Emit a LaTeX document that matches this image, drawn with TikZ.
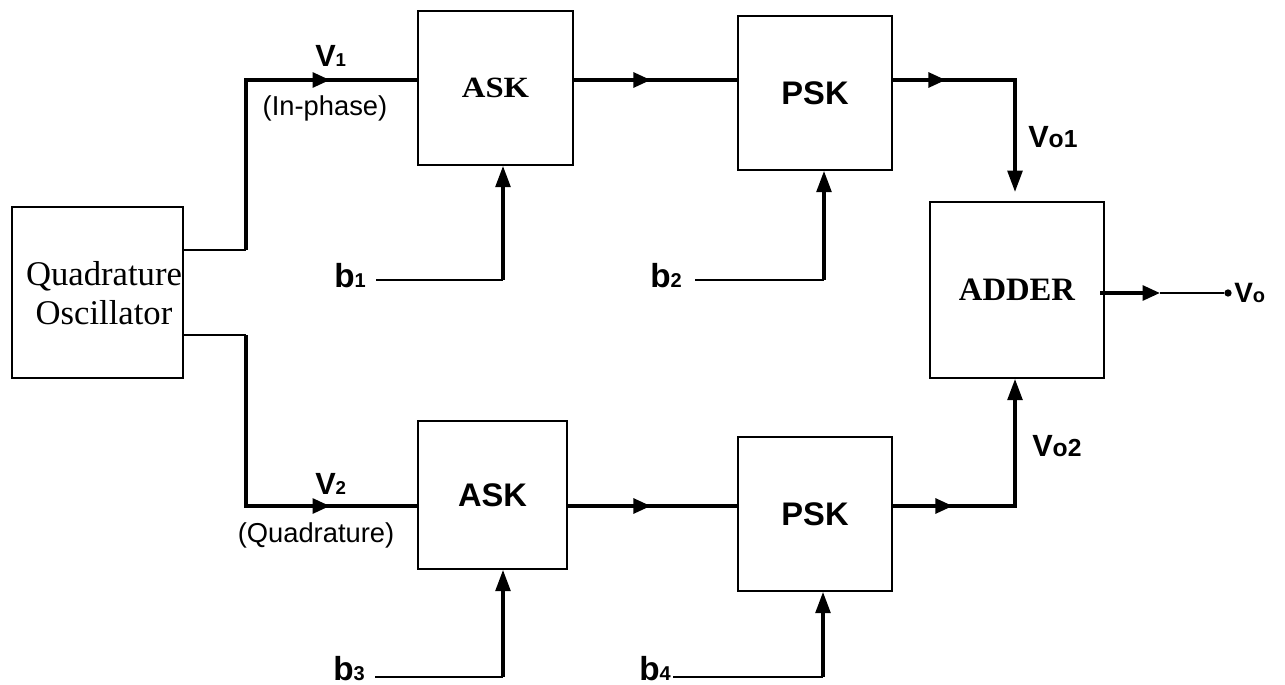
\documentclass[tikz,border=0pt]{standalone}
\usepackage{fontspec}
\usepackage{graphicx}
\setmainfont{Liberation Serif}
\setsansfont{Liberation Sans}
\usetikzlibrary{arrows.meta,decorations.markings}

% signal label: main letter and a smaller index on the same baseline
\newcommand\sigtxt[4]{{\sffamily\bfseries\fontsize{#3}{#3}\selectfont #1\fontsize{#4}{#4}\selectfont #2}}

\begin{document}
\begin{tikzpicture}[x=0.75pt,y=-0.75pt,
  box/.style={draw,line width=1.2pt,inner sep=0pt},
  serifbig/.style={font=\rmfamily\bfseries\fontsize{24.5}{29}\selectfont},
  sansbig/.style={font=\sffamily\bfseries\fontsize{24.5}{29}\selectfont},
  lab/.style={inner sep=0pt,anchor=base west},
  wire/.style={line width=2.7pt},
  thinw/.style={line width=1.2pt},
  endtip/.style={-{Triangle[length=16pt,width=11pt]}},
  midtip/.style={postaction={decorate},decoration={markings,
      mark=at position #1 with {\arrow{Triangle[length=13pt,width=11pt]}}}},
]
\useasboundingbox (0,0) rectangle (1285,685);

% blocks
\node[box,minimum width=128.25pt,minimum height=128.25pt] (qo) at (97.5,292.5) {};
\node[align=center,inner sep=0pt,font=\rmfamily\fontsize{26}{29.25}\selectfont] (qotext) at (104,293) {Quadrature\\Oscillator};
\node[box,minimum width=116.25pt,minimum height=115.5pt,serifbig] (ask1) at (495.5,88) {\scalebox{1}[0.9]{ASK}};
\node[box,minimum width=115.5pt,minimum height=115.5pt,sansbig] (psk1) at (815,93) {PSK};
\node[box,minimum width=130.5pt,minimum height=132pt,serifbig] (adder) at (1017,290) {ADDER};
\node[box,minimum width=111.75pt,minimum height=111pt,sansbig] (ask2) at (492.5,495) {ASK};
\node[box,minimum width=115.5pt,minimum height=115.5pt,sansbig] (psk2) at (815,514) {PSK};

% routing points
\coordinate (qoT) at (183,250);
\coordinate (j1) at (246,250);
\coordinate (k1) at (246,80);
\coordinate (qoB) at (183,335);
\coordinate (j2) at (246,335);
\coordinate (k2) at (246,506);
\coordinate (m1) at (1015,80);
\coordinate (a1in) at (1015,192);
\coordinate (m2) at (1015,506);
\coordinate (vstart) at (1100,293);
\coordinate (vtip) at (1160,293);
\node[circle,fill,inner sep=0pt,minimum size=5.5pt] (vo) at (1228,293) {};

% input bit lines
\coordinate (sb1) at (376,280);  \coordinate (cb1) at (503,280);
\coordinate (sb2) at (695,280);  \coordinate (cb2) at (824,280);
\coordinate (sb3) at (375,677);  \coordinate (cb3) at (503,677);
\coordinate (sb4) at (673,677);  \coordinate (cb4) at (823,677);

% labels
\node[lab] (v1) at (315,67) {\sigtxt{V}{1}{23}{14}};
\node[lab] (v2) at (315,494) {\sigtxt{V}{2}{23}{14}};
\node[inner sep=0pt,anchor=base,font=\sffamily\fontsize{20.5}{20.5}\selectfont] (inph) at (325,115) {(In-phase)};
\node[inner sep=0pt,anchor=base,font=\sffamily\fontsize{20.5}{20.5}\selectfont] (quad) at (316,542) {(Quadrature)};
\node[lab] (b1) at (334,287.5) {\sigtxt{b}{1}{25}{15}};
\node[lab] (b2) at (650,287.5) {\sigtxt{b}{2}{25}{15}};
\node[lab] (b3) at (333,680.5) {\sigtxt{b}{3}{25}{15}};
\node[lab] (b4) at (639,680.5) {\sigtxt{b}{4}{25}{15}};
\node[lab] (vo1) at (1028,147) {\sigtxt{V}{o1}{23}{18.5}};
\node[lab] (vo2) at (1032,456) {\sigtxt{V}{o2}{23}{18.5}};
\node[lab] (volab) at (1234,302) {\sigtxt{V}{o}{21}{15}};

% oscillator outputs
\draw[thinw] (qoT) -- (j1);
\draw[wire,midtip=190.5pt] (j1) -- (k1) -- (ask1.west |- k1);
\draw[thinw] (qoB) -- (j2);
\draw[wire,midtip=191.25pt] (j2) -- (k2) -- (ask2.west |- k2);

% ASK -> PSK
\draw[wire,midtip=57.75pt] (ask1.east |- k1) -- (psk1.west |- k1);
\draw[wire,midtip=62.25pt] (ask2.east |- k2) -- (psk2.west |- k2);

% PSK -> ADDER
\draw[wire,midtip=39.75pt,endtip] (psk1.east |- k1) -- (m1) -- (a1in);
\draw[wire,midtip=45pt,endtip] (psk2.east |- k2) -- (m2) -- (m2 |- adder.south);

% ADDER output
\draw[wire,-{Triangle[length=13pt,width=11pt]}] (vstart) -- (vtip);
\draw[thinw] (vtip) -- (vo);

% bit inputs
\draw[thinw] (sb1) -- (cb1);
\draw[wire,endtip] (cb1) -- (cb1 |- ask1.south);
\draw[thinw] (sb2) -- (cb2);
\draw[wire,endtip] (cb2) -- (cb2 |- psk1.south);
\draw[thinw] (sb3) -- (cb3);
\draw[wire,endtip] (cb3) -- (cb3 |- ask2.south);
\draw[thinw] (sb4) -- (cb4);
\draw[wire,endtip] (cb4) -- (cb4 |- psk2.south);
\end{tikzpicture}
\end{document}
